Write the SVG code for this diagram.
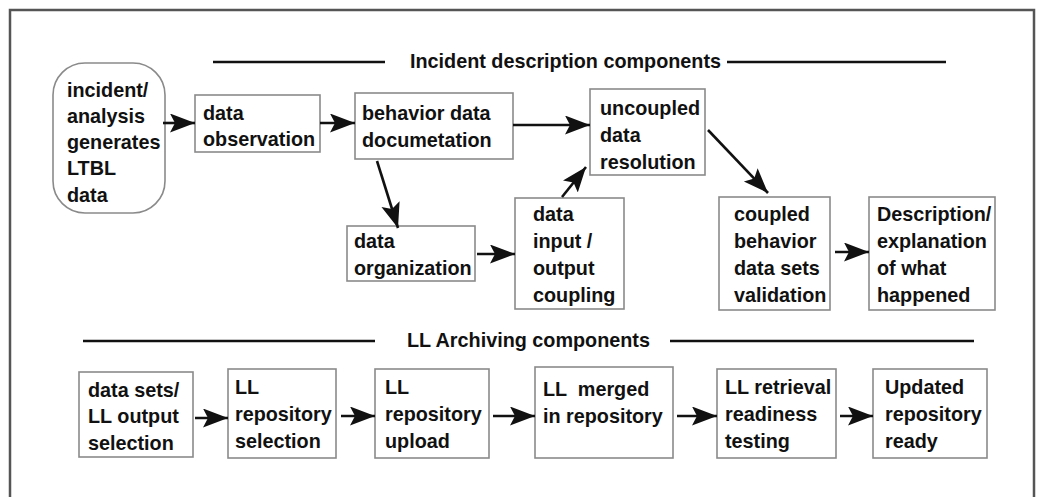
<svg xmlns="http://www.w3.org/2000/svg" width="1037" height="497" viewBox="0 0 1037 497">
<defs>
<marker id="ah" markerUnits="userSpaceOnUse" markerWidth="27" markerHeight="20" refX="25" refY="9.5" orient="auto" viewBox="0 0 27 20">
<path d="M0,0 L25,9.5 L0,19 L5,9.5 Z" fill="#111"/>
</marker>
<style>
text{font-family:"Liberation Sans",Arial,sans-serif;font-weight:bold;font-size:19.8px;fill:#111}
.box{fill:#fff;stroke:#8a8a8a;stroke-width:1.6}
.hdr{stroke:#111;stroke-width:2.5}
.con{stroke:#111;stroke-width:2.6;fill:none;marker-end:url(#ah)}
</style>
</defs>
<rect x="0" y="0" width="1037" height="497" fill="#fff"/>
<path d="M10,497 V10 H1034 V497" fill="none" stroke="#555" stroke-width="2.5"/>

<g id="header-top">
<line class="hdr" x1="213" y1="62" x2="385" y2="62"/>
<text x="410" y="68">Incident description components</text>
<line class="hdr" x1="727" y1="62" x2="946" y2="62"/>
</g>
<g id="header-bottom">
<line class="hdr" x1="83" y1="341" x2="375" y2="341"/>
<text x="407" y="347">LL Archiving components</text>
<line class="hdr" x1="670" y1="341" x2="974" y2="341"/>
</g>

<g id="n-start">
<rect class="box" x="53" y="63" width="112" height="150" rx="32" ry="32"/>
<text x="67" y="97">incident/</text>
<text x="67" y="123">analysis</text>
<text x="67" y="149">generates</text>
<text x="67" y="175">LTBL</text>
<text x="67" y="202">data</text>
</g>
<g id="n-observation">
<rect class="box" x="195" y="95" width="125" height="57"/>
<text x="203" y="120">data</text>
<text x="203" y="146">observation</text>
</g>
<g id="n-behavior">
<rect class="box" x="355" y="93" width="158" height="66"/>
<text x="362" y="120">behavior data</text>
<text x="362" y="147">documetation</text>
</g>
<g id="n-uncoupled">
<rect class="box" x="590" y="89" width="115" height="86"/>
<text x="600" y="115">uncoupled</text>
<text x="600" y="142">data</text>
<text x="600" y="169">resolution</text>
</g>
<g id="n-organization">
<rect class="box" x="347" y="226" width="128" height="55"/>
<text x="354" y="248">data</text>
<text x="354" y="275">organization</text>
</g>
<g id="n-inputoutput">
<rect class="box" x="515" y="198" width="109" height="111"/>
<text x="533" y="221">data</text>
<text x="533" y="248">input /</text>
<text x="533" y="275">output</text>
<text x="533" y="302">coupling</text>
</g>
<g id="n-coupled">
<rect class="box" x="719" y="197" width="111" height="113"/>
<text x="734" y="221">coupled</text>
<text x="734" y="248">behavior</text>
<text x="734" y="275">data sets</text>
<text x="734" y="302">validation</text>
</g>
<g id="n-description">
<rect class="box" x="869" y="197" width="126" height="113"/>
<text x="877" y="221">Description/</text>
<text x="877" y="248">explanation</text>
<text x="877" y="275">of what</text>
<text x="877" y="302">happened</text>
</g>

<g id="n-selection">
<rect class="box" x="79" y="372" width="114" height="85"/>
<text x="88" y="397">data sets/</text>
<text x="88" y="423">LL output</text>
<text x="88" y="450">selection</text>
</g>
<g id="n-repo-selection">
<rect class="box" x="228" y="369" width="108" height="89"/>
<text x="235" y="394">LL</text>
<text x="235" y="421">repository</text>
<text x="235" y="448">selection</text>
</g>
<g id="n-upload">
<rect class="box" x="375" y="369" width="114" height="89"/>
<text x="385" y="394">LL</text>
<text x="385" y="421">repository</text>
<text x="385" y="448">upload</text>
</g>
<g id="n-merged">
<rect class="box" x="535" y="367" width="138" height="91"/>
<text x="543" y="396" xml:space="preserve">LL  merged</text>
<text x="543" y="423">in repository</text>
</g>
<g id="n-retrieval">
<rect class="box" x="717" y="369" width="119" height="89"/>
<text x="725" y="394">LL retrieval</text>
<text x="725" y="421">readiness</text>
<text x="725" y="448">testing</text>
</g>
<g id="n-ready">
<rect class="box" x="873" y="369" width="114" height="89"/>
<text x="885" y="394">Updated</text>
<text x="885" y="421">repository</text>
<text x="885" y="448">ready</text>
</g>

<g id="connectors">
<line class="con" x1="163" y1="123" x2="195" y2="123"/>
<line class="con" x1="320" y1="123" x2="355" y2="123"/>
<line class="con" x1="513" y1="125" x2="590" y2="125"/>
<line class="con" x1="377" y1="161" x2="398" y2="228"/>
<line class="con" x1="477" y1="254" x2="515" y2="254"/>
<line class="con" x1="562" y1="197" x2="586" y2="167"/>
<line class="con" x1="708" y1="130" x2="768" y2="193"/>
<line class="con" x1="835" y1="252" x2="869" y2="252"/>
<line class="con" x1="195" y1="418" x2="228" y2="418"/>
<line class="con" x1="341" y1="416" x2="375" y2="416"/>
<line class="con" x1="493" y1="416" x2="535" y2="416"/>
<line class="con" x1="677" y1="416" x2="717" y2="416"/>
<line class="con" x1="840" y1="416" x2="873" y2="416"/>
</g>
</svg>
